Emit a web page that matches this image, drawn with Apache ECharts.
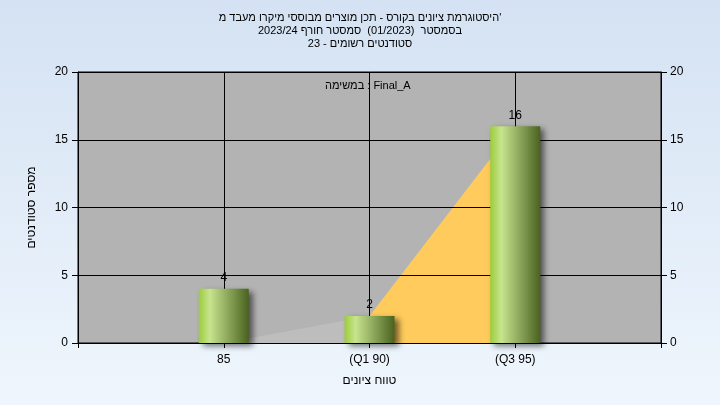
<!DOCTYPE html>
<html>
<head>
<meta charset="utf-8">
<script src="https://cdn.jsdelivr.net/npm/echarts@6/dist/echarts.min.js"></script>
<style>
html,body{margin:0;padding:0;}
#c{width:720px;height:405px;}
</style>
</head>
<body>
<div id="c"></div>
<script>
const titleLines = [
  "היסטוגרמת ציונים בקורס - תכן מוצרים מבוססי מיקרו מעבד מ'",
  "בסמסטר  (01/2023)  סמסטר חורף 2023/24",
  "סטודנטים רשומים - 23"
];
const categories = ['85', '(Q1 90)', '(Q3 95)'];
const counts = [4, 2, 16];
const belowQ1Area = [0, 2, null];
const q1q3Area = [null, 2, 16];
const yTicks = [0, 5, 10, 15, 20];
const xName = 'טווח ציונים';
const yName = 'מספר סטודנטים';
const note = 'במשימה : Final_A';

const cats = [''].concat(categories, ['']);
const pad = a => [null].concat(a, [null]);

const FONT = 'Liberation Sans';
const chart = echarts.init(document.getElementById('c'));
const axisCommon = {
  type: 'value', min: yTicks[0], max: yTicks[yTicks.length - 1], interval: yTicks[1] - yTicks[0],
  z: 3,
  axisLine: {show: true, lineStyle: {color: '#000', width: 1}},
  axisTick: {show: true, length: 6, lineStyle: {color: '#000'}},
  axisLabel: {color: '#000', fontSize: 12, fontFamily: FONT, margin: 10},
};
chart.setOption({
  backgroundColor: new echarts.graphic.LinearGradient(0, 0, 0, 1, [
    {offset: 0, color: '#d4e2f3'}, {offset: 1, color: '#eff6fd'}
  ]),
  animation: false,
  title: {
    text: titleLines.join('\n'),
    left: 'center', top: 6,
    textStyle: {fontSize: 11, fontWeight: 'normal', color: '#000', fontFamily: FONT, lineHeight: 13}
  },
  grid: {left: 78, right: 59, top: 72, bottom: 62, show: true, backgroundColor: '#b3b3b3', borderColor: '#000', borderWidth: 1},
  xAxis: {
    type: 'category', data: cats, boundaryGap: false, z: 3,
    name: xName, nameLocation: 'middle', nameGap: 32,
    nameTextStyle: {color: '#000', fontSize: 12, fontFamily: FONT},
    axisLine: {show: true, lineStyle: {color: '#000'}},
    axisTick: {show: true, length: 5, alignWithLabel: true, lineStyle: {color: '#000'}},
    axisLabel: {color: '#000', fontSize: 12, fontFamily: FONT, margin: 11, interval: 0},
    splitLine: {show: true, lineStyle: {color: '#000', width: 1}}
  },
  yAxis: [
    Object.assign({}, axisCommon, {
      position: 'left',
      name: yName, nameLocation: 'middle', nameGap: 40, nameRotate: 90,
      nameTextStyle: {color: '#000', fontSize: 12, fontFamily: FONT},
      splitLine: {show: true, lineStyle: {color: '#000', width: 1}}
    }),
    Object.assign({}, axisCommon, {
      position: 'right',
      axisLabel: Object.assign({}, axisCommon.axisLabel, {margin: 9}),
      splitLine: {show: false}
    })
  ],
  graphic: [{
    type: 'text', left: 325, top: 80, z: 10,
    style: {text: note, fill: '#000', font: '11px "' + FONT + '"'}
  }],
  series: [
    {
      type: 'line', data: pad(belowQ1Area), symbol: 'none', z: 1,
      lineStyle: {width: 0}, areaStyle: {color: '#bdbdbd', opacity: 1}, connectNulls: false
    },
    {
      type: 'line', data: pad(q1q3Area), symbol: 'none', z: 1,
      lineStyle: {width: 0}, areaStyle: {color: '#ffcb5c', opacity: 1}, connectNulls: false
    },
    {
      type: 'bar', data: pad(counts), barWidth: 50, z: 5,
      itemStyle: {
        color: new echarts.graphic.LinearGradient(0, 0, 1, 0, [
          {offset: 0, color: '#9ccc3c'},
          {offset: 0.22, color: '#c7e48e'},
          {offset: 0.6, color: '#8aa55a'},
          {offset: 1, color: '#4a621e'}
        ]),
        shadowColor: 'rgba(0,0,0,0.55)', shadowBlur: 6, shadowOffsetX: 4, shadowOffsetY: 3
      },
      label: {show: true, position: 'top', distance: 5, color: '#000', fontSize: 12, fontFamily: FONT}
    }
  ]
});
</script>
</body>
</html>
